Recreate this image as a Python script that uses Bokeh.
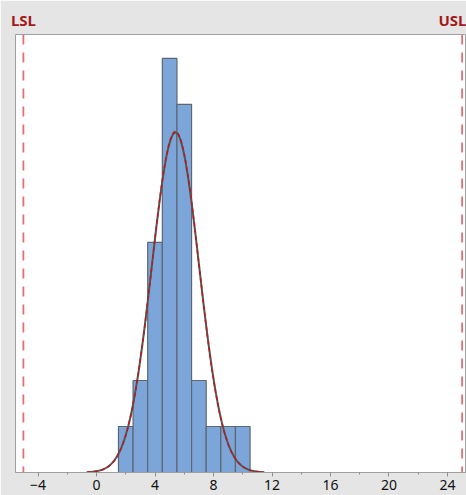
import numpy as np
from bokeh.plotting import figure
from bokeh.models import Range1d, Span, FixedTicker, LinearAxis
from bokeh.embed import file_html
from bokeh.resources import INLINE

# data
bin_left = [1.5, 2.5, 3.5, 4.5, 5.5, 6.5, 7.5, 8.5, 9.5]
bin_right = [2.5, 3.5, 4.5, 5.5, 6.5, 7.5, 8.5, 9.5, 10.5]
counts = [1, 2, 5, 9, 8, 2, 1, 1, 1]
lsl = -5
usl = 25
spec_labels = {lsl: "LSL", usl: "USL"}
mean = 5.4
sigma_overall = 1.62
sigma_within = 1.615
x_ticks = [-4, 0, 4, 8, 12, 16, 20, 24]
x_minor = [-4, -2, 0, 2, 4, 6, 8, 10, 12, 14, 16, 18, 20, 22, 24]

n = sum(counts)
bw = 1.0

p = figure(width=466, height=495, output_backend="svg", toolbar_location=None,
           x_range=Range1d(-5.54, 25.3), y_range=Range1d(0, 9.52),
           min_border_left=15, min_border_right=0, min_border_top=34, min_border_bottom=23,
           background_fill_color="white", border_fill_color="#e5e5e5",
           outline_line_color="#a0a0a0", outline_line_width=1)
p.grid.visible = False
p.yaxis.visible = False

p.quad(left=bin_left, right=bin_right, bottom=0, top=counts,
       fill_color="#7ca6d9", line_color="#5e6670", line_width=1.2)

for xv in [lsl, usl]:
    p.add_layout(Span(location=xv, dimension="height", line_color="#e36f74",
                      line_width=1.8, line_dash="10 8"))

def curve(sig):
    xs = np.linspace(mean - 3.75 * sig, mean + 3.75 * sig, 300)
    ys = n * bw / (sig * np.sqrt(2 * np.pi)) * np.exp(-0.5 * ((xs - mean) / sig) ** 2)
    return xs, ys

xo, yo = curve(sigma_overall)
p.line(xo, yo, line_color="#555555", line_width=2)
xw, yw = curve(sigma_within)
p.line(xw, yw, line_color="#c01818", line_width=1.5, line_dash="4 3")

ax = p.below[0]
ax.ticker = FixedTicker(ticks=x_ticks, minor_ticks=x_minor)
ax.axis_line_color = "#a0a0a0"
ax.major_tick_line_color = "#909090"
ax.minor_tick_line_color = "#909090"
ax.major_tick_out = 4
ax.major_tick_in = 0
ax.minor_tick_out = 2
ax.minor_tick_in = 0
ax.major_label_standoff = 3
ax.major_label_text_font = "Noto Sans"
ax.major_label_text_font_size = "14px"
ax.major_label_text_color = "#111111"

top = LinearAxis(ticker=FixedTicker(ticks=[lsl, usl], minor_ticks=[]),
                 major_label_overrides=spec_labels)
top.axis_line_color = None
top.major_tick_line_color = None
top.minor_tick_line_color = None
top.major_tick_out = 0
top.major_tick_in = 0
top.major_label_standoff = 5
top.major_label_text_color = "#a11a1a"
top.major_label_text_font = "Noto Sans"
top.major_label_text_font_size = "15px"
top.major_label_text_font_style = "bold"
p.add_layout(top, "above")

open("out.html", "w").write(file_html(p, INLINE))
